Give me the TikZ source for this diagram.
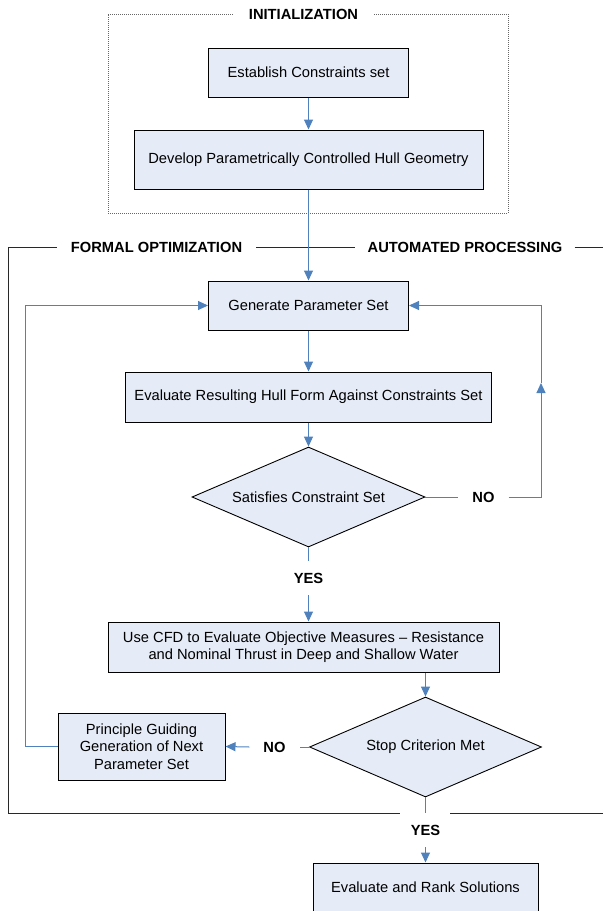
\documentclass[tikz,border=0pt]{standalone}
\usepackage{fontspec}
\setmainfont{Liberation Sans}
\usetikzlibrary{shapes.geometric,arrows.meta,calc}
\definecolor{boxfill}{RGB}{230,236,247}
\definecolor{linkblue}{RGB}{79,129,189}
\definecolor{framegray}{RGB}{40,40,40}
\begin{document}
\begin{tikzpicture}[x=1pt,y=-1pt,
  every node/.style={font=\fontsize{14.7}{17.5}\selectfont},
  procbox/.style={draw=black,fill=boxfill,line width=1pt,inner sep=0pt,align=center},
  decision/.style={diamond,draw=black,fill=boxfill,line width=0.9pt,inner sep=0pt,shape aspect=2.3},
  tag/.style={font=\fontsize{14.7}{17.5}\selectfont\bfseries,inner xsep=14pt,inner ysep=11.75pt,text height=10.5pt,text depth=0pt},
  conn/.style={draw=linkblue,line width=1pt},
  arr/.style={conn,-{Triangle[length=10pt,width=9pt]}},
  frameline/.style={draw=framegray,line width=1pt},
  initline/.style={draw=gray!80!black,line width=1pt,densely dotted}]
\useasboundingbox (0,0) rectangle (603,911);

% titles and labels
\node[tag,inner xsep=16pt] (initT) at (303.5,14) {INITIALIZATION};
\node[tag] (formT) at (156.5,247) {FORMAL OPTIMIZATION};
\node[tag,inner xsep=12pt] (autoT) at (465,247) {AUTOMATED PROCESSING};
\node[tag] (no1) at (483.5,497) {NO};
\node[tag] (yes1) at (308.5,578) {YES};
\node[tag] (no2) at (274.5,747) {NO};
\node[tag] (yes2) at (425.5,830) {YES};

% frames
\coordinate (iTL) at (108,14);
\coordinate (iBL) at (108,213);
\coordinate (iBR) at (508,213);
\coordinate (iTR) at (508,14);
\draw[initline] (initT.west) -- (iTL) -- (iBL) -- (iBR) -- (iTR) -- (initT.east);

\coordinate (fTL) at (8,247);
\coordinate (fBL) at (8,813);
\coordinate (fBg1) at (400,813);
\coordinate (fBg2) at (450,813);
\coordinate (fBR) at (603,813);
\coordinate (fTR) at (603,247);
\draw[frameline] (formT.west) -- (fTL) -- (fBL) -- (fBg1);
\draw[frameline] (fBg2) -- (fBR);
\draw[frameline] (formT.east) -- (autoT.west);
\draw[frameline] (autoT.east) -- (fTR);

% process nodes
\node[procbox,minimum width=200pt,minimum height=49pt] (est) at (308.5,72.5) {Establish Constraints set};
\node[procbox,minimum width=349pt,minimum height=59pt] (dev) at (308.5,159.5) {Develop Parametrically Controlled Hull Geometry};
\node[procbox,minimum width=200pt,minimum height=49pt] (gen) at (308.5,305.5) {Generate Parameter Set};
\node[procbox,minimum width=366pt,minimum height=50pt] (eval) at (308.5,397) {Evaluate Resulting Hull Form Against Constraints Set};
\node[decision,minimum width=233pt,minimum height=100pt] (sat) at (308.5,497) {Satisfies Constraint Set};
\node[procbox,minimum width=391pt,minimum height=50pt] (cfd) at (303.5,647) {Use CFD to Evaluate Objective Measures – Resistance\\and Nominal Thrust in Deep and Shallow Water};
\node[decision,minimum width=232pt,minimum height=100pt] (stop) at (425.5,747) {Stop Criterion Met};
\node[procbox,minimum width=167pt,minimum height=67pt] (princ) at (141.5,746.5) {Principle Guiding\\Generation of Next\\Parameter Set};
\node[procbox,minimum width=225pt,minimum height=49pt] (rank) at (425.5,887.5) {Evaluate and Rank Solutions};

% routing coordinates
\coordinate (rt) at (541,497);
\coordinate (rmid) at (541,383);
\coordinate (rtop) at (541,305.5);
\coordinate (lt) at (25,746.5);
\coordinate (ltop) at (25,305.5);

% connectors
\draw[arr] (est) -- (dev);
\draw[arr] (dev) -- (gen);
\draw[arr] (gen) -- (eval);
\draw[arr] (eval) -- (sat);
\draw[conn] (sat.east) -- (no1.west);
\draw[arr] (no1.east) -- (rt) -- (rmid);
\draw[arr] (rmid) -- (rtop) -- (gen.east);
\draw[conn] (sat.south) -- (yes1.north);
\draw[arr] (yes1.south) -- (yes1.south |- cfd.north);
\draw[arr] (cfd.south -| stop.north) -- (stop.north);
\draw[conn] (stop.west) -- (no2.east);
\draw[arr] (no2.west) -- (princ.east);
\draw[arr] (princ.west) -- (lt) -- (ltop) -- (gen.west);
\draw[conn] (stop.south) -- (yes2.north);
\draw[arr] (yes2.south) -- (rank.north);
\end{tikzpicture}
\end{document}
